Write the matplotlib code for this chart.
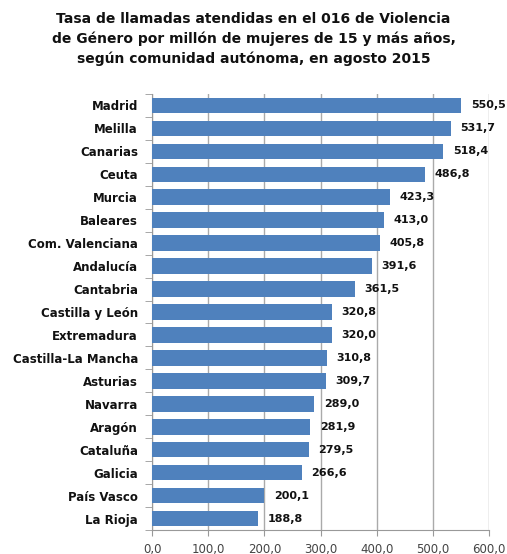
import matplotlib
matplotlib.use("Agg")
import matplotlib.pyplot as plt
import numpy as np

categories = ["Madrid", "Melilla", "Canarias", "Ceuta", "Murcia", "Baleares",
              "Com. Valenciana", "Andalucía", "Cantabria", "Castilla y León",
              "Extremadura", "Castilla-La Mancha", "Asturias", "Navarra",
              "Aragón", "Cataluña", "Galicia", "País Vasco", "La Rioja"]
values = [550.5, 531.7, 518.4, 486.8, 423.3, 413.0, 405.8, 391.6, 361.5, 320.8,
          320.0, 310.8, 309.7, 289.0, 281.9, 279.5, 266.6, 200.1, 188.8]
xticks = [0, 100, 200, 300, 400, 500, 600]
title = ("Tasa de llamadas atendidas en el 016 de Violencia\n"
         "de Género por millón de mujeres de 15 y más años,\n"
         "según comunidad autónoma, en agosto 2015")

plt.rcParams['font.family'] = ['DejaVu Sans']

fig = plt.figure(figsize=(5.07, 5.54), dpi=100)
ax = fig.add_axes([152/507, 1-530/554, (489-152)/507, (530-94)/554])

n = len(categories)
y = np.arange(n)
ax.barh(y, values, height=0.68, color="#4F81BD", zorder=3)
ax.set_ylim(n - 0.5, -0.5)
ax.set_xlim(0, 600)

ax.set_xticks(xticks)
ax.set_xticklabels([f"{v:.1f}".replace(".", ",") for v in xticks],
                   fontsize=8.5, color="#444444")
ax.set_yticks(y)
ax.set_yticklabels(categories, fontsize=8.5, fontweight="bold", color="#111111")
ax.set_yticks(np.arange(n + 1) - 0.5, minor=True)
ax.tick_params(axis='y', which='major', length=0, pad=10)
ax.tick_params(axis='y', which='minor', length=5, color="#999999", direction='out')
ax.tick_params(axis='x', which='major', length=4, color="#999999", pad=5)

ax.grid(axis='x', color="#AAAAAA", linewidth=1, zorder=0)
for s in ['top', 'right']:
    ax.spines[s].set_visible(False)
ax.spines['left'].set_color("#999999")
ax.spines['bottom'].set_color("#999999")

for yi, v in zip(y, values):
    ax.text(v + 17, yi, f"{v:.1f}".replace(".", ","), va='center', ha='left',
            fontsize=8, fontweight='bold', color="#111111", zorder=4)

fig.text(0.5, 0.978, title, ha='center', va='top', fontsize=10,
         fontweight='bold', color="#111111", linespacing=1.45)

fig.savefig("out.png", dpi=100)
